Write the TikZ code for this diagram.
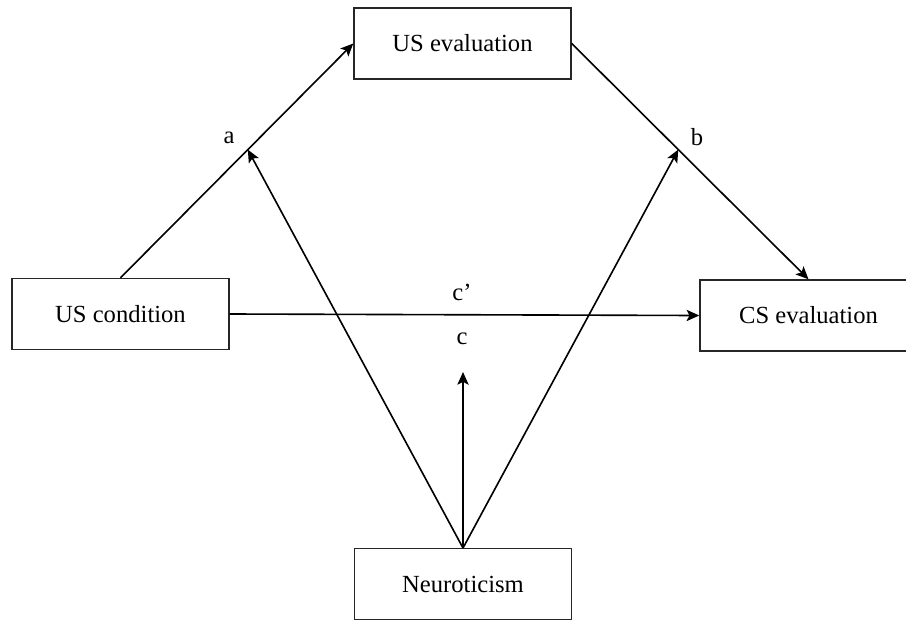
\documentclass[tikz,border=0pt]{standalone}
\usepackage{fontspec}
\setmainfont{Liberation Serif}
\usetikzlibrary{arrows.meta,calc}

\tikzstyle{block}=[rectangle,
    line width=1pt,
    minimum height=1.775cm,
    minimum width=5.425cm,
    draw=black!85,
    font=\fontsize{17.5}{20}\selectfont]
\tikzstyle{path}=[line width=1.15pt,-{Stealth[length=9pt,width=8pt,inset=2pt]}]
\tikzstyle{lbl}=[font=\fontsize{17.5}{20}\selectfont]

\begin{document}
\begin{tikzpicture}[x=0.025cm,y=-0.025cm]
    \useasboundingbox (0,0) rectangle (906,619);
    \begin{scope}
    \clip (0,0) rectangle (906,619);
    \node (useval) [block] at (462.5,43.5) {US evaluation};
    \node (uscond) [block] at (120.5,314) {US condition};
    \node (cseval) [block] at (808.5,315.5) {CS evaluation};
    \node (neuro) [block,anchor=north] at (463,548) {Neuroticism};
    \end{scope}
    % moderation points on the a and b paths
    \coordinate (pa) at ($(uscond.north)!0.547!(useval.west)$);
    \coordinate (pb) at ($(useval.east)!0.45!(cseval.north)$);
    \coordinate (pc) at (463,372);
    \draw [path] (uscond.north) -- (useval.west);
    \draw [path] (useval.east) -- (cseval.north);
    \draw [path] (uscond.east) -- (cseval.west);
    \draw [path] (neuro.north) -- (pa);
    \draw [path] (neuro.north) -- (pb);
    \draw [path] (neuro.north) -- (pc);
    \node (la) [lbl] at (229,138) {a};
    \node (lb) [lbl] at (697,137) {b};
    \node (lc1) [lbl] at (462,292) {c’};
    \node (lc) [lbl] at (462,339) {c};
\end{tikzpicture}
\end{document}
